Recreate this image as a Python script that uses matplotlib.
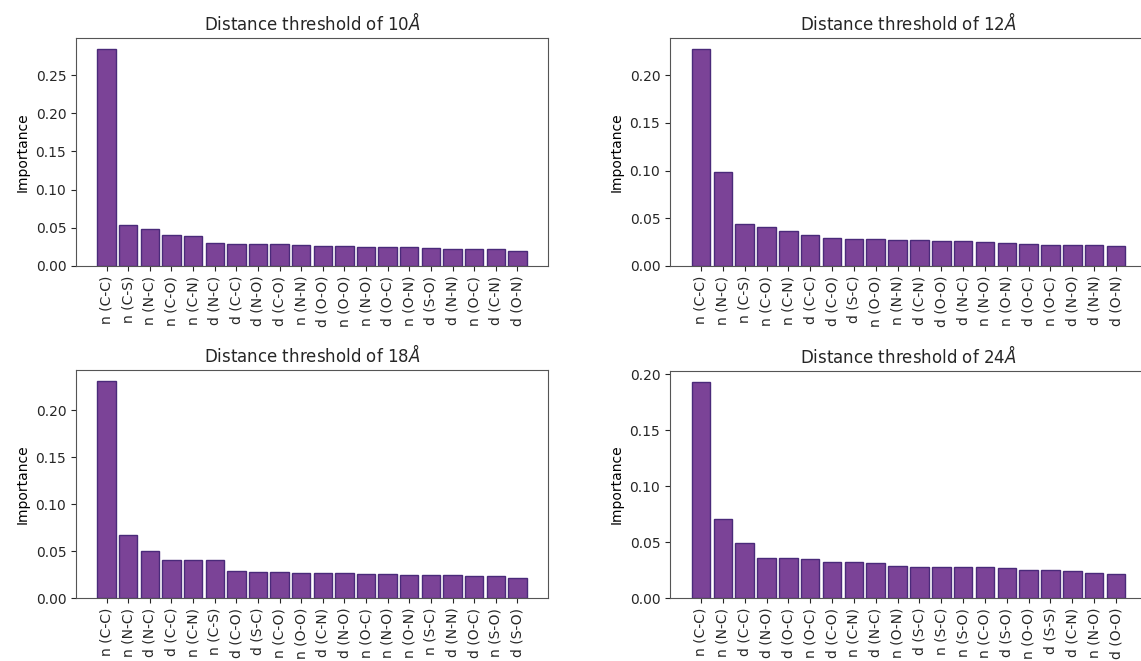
import matplotlib
matplotlib.use('Agg')
import matplotlib.pyplot as plt

# feature importances for each distance threshold (top 20)
labels_10 = ['n (C-C)', 'n (C-S)', 'n (N-C)', 'n (C-O)', 'n (C-N)', 'd (N-C)', 'd (C-C)',
             'd (N-O)', 'd (C-O)', 'n (N-N)', 'd (O-O)', 'n (O-O)', 'n (N-O)', 'd (O-C)',
             'n (O-N)', 'd (S-O)', 'd (N-N)', 'n (O-C)', 'd (C-N)', 'd (O-N)']
imp_10 = [0.2844, 0.0531, 0.0488, 0.0401, 0.0392, 0.0305, 0.0292, 0.0292, 0.0283, 0.0270,
          0.0266, 0.0257, 0.0253, 0.0244, 0.0244, 0.0235, 0.0226, 0.0226, 0.0218, 0.0200]

labels_12 = ['n (C-C)', 'n (N-C)', 'n (C-S)', 'n (C-O)', 'n (C-N)', 'd (C-C)', 'd (C-O)',
             'd (S-C)', 'n (O-O)', 'n (N-N)', 'd (C-N)', 'd (O-O)', 'd (N-C)', 'n (N-O)',
             'n (O-N)', 'd (O-C)', 'n (O-C)', 'd (N-O)', 'd (N-N)', 'd (O-N)']
imp_12 = [0.2275, 0.0986, 0.0436, 0.0411, 0.0366, 0.0328, 0.0293, 0.0279, 0.0279, 0.0272,
          0.0272, 0.0258, 0.0258, 0.0247, 0.0240, 0.0226, 0.0223, 0.0220, 0.0216, 0.0213]

labels_18 = ['n (C-C)', 'n (N-C)', 'd (N-C)', 'd (C-C)', 'n (C-N)', 'n (C-S)', 'd (C-O)',
             'd (S-C)', 'n (C-O)', 'n (O-O)', 'd (C-N)', 'd (N-O)', 'n (O-C)', 'n (N-O)',
             'n (O-N)', 'n (S-C)', 'd (N-N)', 'd (O-C)', 'n (S-O)', 'd (S-O)']
imp_18 = [0.2316, 0.0675, 0.0501, 0.0409, 0.0405, 0.0401, 0.0291, 0.0277, 0.0277, 0.0270,
          0.0266, 0.0266, 0.0259, 0.0252, 0.0249, 0.0249, 0.0242, 0.0238, 0.0234, 0.0213]

labels_24 = ['n (C-C)', 'n (N-C)', 'd (C-C)', 'd (N-O)', 'd (O-C)', 'n (O-C)', 'd (C-O)',
             'n (C-N)', 'd (N-C)', 'n (O-N)', 'd (S-C)', 'n (S-C)', 'n (S-O)', 'n (C-O)',
             'd (S-O)', 'n (O-O)', 'd (S-S)', 'd (C-N)', 'n (N-O)', 'd (O-O)']
imp_24 = [0.1932, 0.0702, 0.0492, 0.0359, 0.0353, 0.0350, 0.0326, 0.0326, 0.0314, 0.0287,
          0.0279, 0.0279, 0.0273, 0.0273, 0.0270, 0.0249, 0.0246, 0.0240, 0.0225, 0.0213]

thresholds = [10, 12, 18, 24]

plt.rcParams['font.family'] = 'DejaVu Sans'
plt.rcParams['text.color'] = '#262626'
plt.rcParams['xtick.color'] = '#262626'
plt.rcParams['ytick.color'] = '#262626'

fig = plt.figure(figsize=(11.41, 6.61), dpi=100)
W, H = 1141.0, 661.0

# axes boxes in pixels: left, top, right, bottom
boxes = [(76, 38, 548, 266), (670, 38, 1147, 266),
         (76, 370, 548, 598), (670, 371, 1147, 598)]

all_labels = [labels_10, labels_12, labels_18, labels_24]
all_imp = [imp_10, imp_12, imp_18, imp_24]

for (l, t, r, b), th, labs, vals in zip(boxes, thresholds, all_labels, all_imp):
    ax = fig.add_axes([l / W, 1 - b / H, (r - l) / W, (b - t) / H])
    x = range(len(vals))
    ax.bar(x, vals, width=0.85, color='#7b4397', edgecolor='#4a2a7a', linewidth=1.0)
    ax.set_xticks(list(x))
    ax.set_xticklabels(labs, rotation=90, fontsize=10)
    ax.tick_params(axis='y', labelsize=10)
    ax.set_ylabel('Importance', fontsize=10)
    ax.set_title(r'Distance threshold of $%d\AA$' % th, fontsize=12)
    for s in ax.spines.values():
        s.set_color('#555555')

fig.savefig('out.png', dpi=100)
